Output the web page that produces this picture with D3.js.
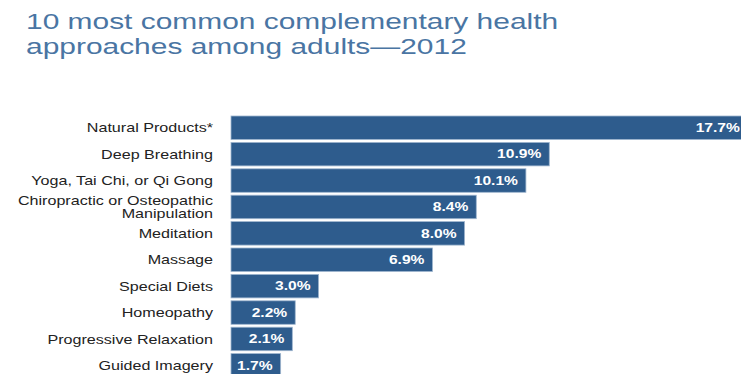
<!DOCTYPE html>
<html>
<head>
<meta charset="utf-8">
<script src="https://cdn.jsdelivr.net/npm/d3@7"></script>
<style>
  html, body { margin: 0; padding: 0; background: #fff; overflow: hidden; }
  svg { display: block; font-family: "Liberation Sans", Arial, Helvetica, sans-serif; }
</style>
</head>
<body>
<div id="chart"></div>
<script>
'use strict';
// data
var categories = ['Natural Products*', 'Deep Breathing', 'Yoga, Tai Chi, or Qi Gong',
                  'Chiropractic or Osteopathic\nManipulation', 'Meditation', 'Massage',
                  'Special Diets', 'Homeopathy', 'Progressive Relaxation', 'Guided Imagery'];
var percents = [17.7, 10.9, 10.1, 8.4, 8.0, 6.9, 3.0, 2.2, 2.1, 1.7];
var titleLines = ['10 most common complementary health', 'approaches among adults\u20142012'];

var W = 741, H = 374;
var barColor = '#2e5c8d';
// the source picture is stretched sideways, so text gets widened too
var stretchTitle = 1.33, stretchLabel = 1.24, stretchValue = 1.3;

var svg = d3.select('#chart').append('svg').attr('width', W).attr('height', H);

// title
svg.append('g').attr('id', 'title')
   .selectAll('text')
   .data(titleLines)
   .enter()
   .append('text')
   .attr('transform', (d, i) => 'translate(26,' + (29 + i * 24.5) + ') scale(' + stretchTitle + ',1)')
   .style('font-size', '22.5px')
   .style('fill', '#4a75a3')
   .text(d => d);

var x = d3.scaleLinear().domain([0, 10]).range([231, 231 + 292]);
var y = d3.scaleBand().domain(categories).range([116, 116 + 26.4 * 10 - 2.9]).paddingInner(0.11).paddingOuter(0);

var rows = svg.append('g').attr('id', 'bars')
   .selectAll('g')
   .data(categories.map((c, i) => ({ cat: c, v: percents[i] })))
   .enter()
   .append('g');

rows.append('rect')
    .attr('x', x(0))
    .attr('y', d => y(d.cat))
    .attr('width', d => x(d.v) - x(0))
    .attr('height', y.bandwidth())
    .style('fill', barColor)
    .style('stroke', '#9fb6cf')
    .style('stroke-width', '0.8px');

rows.append('text')
    .attr('transform', d => 'translate(' + (x(d.v) - 8) + ',' + (y(d.cat) + y.bandwidth() / 2 + 4.3) + ') scale(' + stretchValue + ',1)')
    .style('text-anchor', 'end')
    .style('font-size', '12px')
    .style('font-weight', 'bold')
    .style('fill', '#fff')
    .text(d => d.v.toFixed(1) + '%');

// category labels (some wrap onto two lines)
rows.append('text')
    .attr('transform', d => 'translate(213,' + (y(d.cat) + y.bandwidth() / 2 + 4.6) + ') scale(' + stretchLabel + ',1)')
    .style('text-anchor', 'end')
    .style('font-size', '13px')
    .style('fill', '#222')
    .each(function (d) {
        var lines = d.cat.split('\n');
        var t = d3.select(this);
        lines.forEach(function (l, i) {
            t.append('tspan')
             .attr('x', 0)
             .attr('dy', i === 0 ? -(lines.length - 1) * 6.9 : 13.8)
             .text(l);
        });
    });
</script>
</body>
</html>
